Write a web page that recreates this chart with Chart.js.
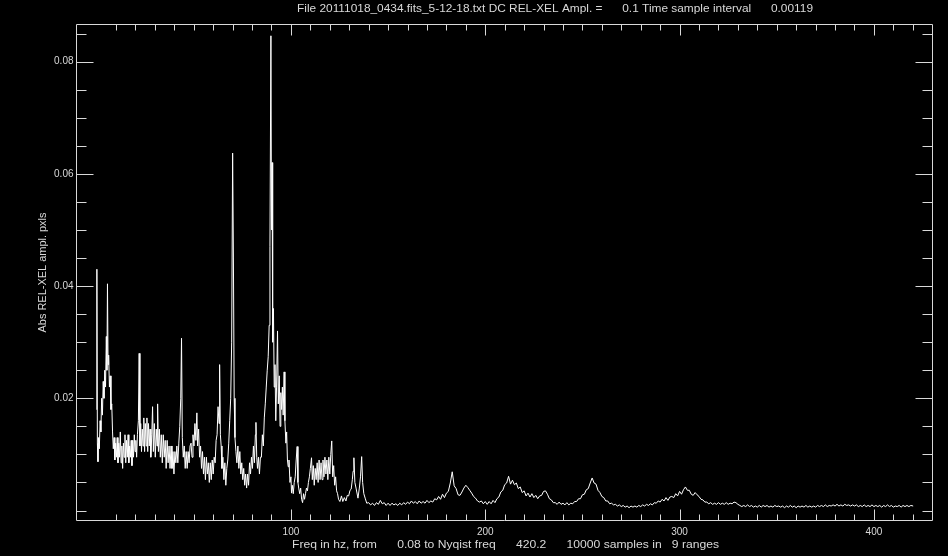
<!DOCTYPE html>
<html>
<head>
<meta charset="utf-8">
<script src="https://cdn.jsdelivr.net/npm/chart.js@4.4.0/dist/chart.umd.min.js"></script>
<style>
  html, body { margin: 0; padding: 0; background: #000; }
  canvas { display: block; background: #000; }
</style>
</head>
<body>
<canvas id="canvas" width="948" height="556"></canvas>
<script>
// spectrum: [freq Hz, amplitude]
var SPEC_0_40 = [
  [0,0.018],[0.15,0.043],[0.4,0.012],[0.7,0.0087],[1.0,0.013],[1.4,0.011],[1.8,0.016],[2.2,0.014],
  [2.6,0.020],[3.0,0.017],[3.4,0.023],[3.8,0.020],[4.2,0.025],[4.6,0.022],[5.0,0.031],[5.3,0.025],
  [5.6,0.0404],[5.9,0.026],[6.2,0.0277],[6.6,0.022],[7.0,0.024],[7.4,0.018],[7.8,0.019],[8.2,0.014],
  [8.6,0.011],[9.0,0.013],[9.4,0.009],[9.8,0.012],[10.2,0.0095],[10.6,0.013],[11.0,0.0085],[11.4,0.012],
  [11.8,0.0095],[12.2,0.014],[12.6,0.0085],[13.0,0.0115],[13.4,0.0075],[13.8,0.012],[14.2,0.0095],[14.6,0.0135],
  [15.0,0.0085],[15.4,0.0125],[15.8,0.0095],[16.2,0.0135],[16.6,0.0085],[17.0,0.0115],[17.4,0.0095],[17.8,0.0125],
  [18.2,0.008],[18.6,0.0125],[19.0,0.0095],[19.4,0.0135],[19.8,0.0105],[20.2,0.0125],[20.6,0.0095],[21.0,0.0135],
  [21.5,0.016],[21.9,0.028],[22.3,0.0115],[22.7,0.0155],[23.1,0.0105],[23.5,0.0145],[23.9,0.0115],[24.3,0.0165],
  [24.7,0.0105],[25.1,0.0155],[25.5,0.0115],[25.9,0.0165],[26.3,0.0105],[26.7,0.0155],[27.1,0.0115],[27.5,0.0145],
  [27.9,0.0095],[28.4,0.0135],[28.8,0.0185],[29.2,0.0105],[29.7,0.0155],[30.2,0.0095],[30.7,0.0145],[31.1,0.0115],
  [31.4,0.019],[31.8,0.0105],[32.3,0.0145],[32.8,0.0095],[33.3,0.0135],[33.8,0.0085],[34.3,0.0135],[34.8,0.0095],
  [35.3,0.0125],[35.8,0.0075],[36.3,0.0125],[36.8,0.0085],[37.3,0.0115],[37.8,0.0075],[38.3,0.0115],[38.8,0.0075],
  [39.3,0.0105],[39.8,0.0065]
];
var SPEC_40_100 = [
  [40.3,0.0105],[40.8,0.0085],[41.3,0.0115],[41.8,0.0085],[42.3,0.012],[42.8,0.015],[43.3,0.020],[43.7,0.0307],
  [44.1,0.013],[44.6,0.0095],[45.1,0.0115],[45.6,0.0075],[46.1,0.0105],[46.6,0.0075],[47.1,0.0105],[47.6,0.0085],
  [48.1,0.0115],[48.6,0.012],[49.1,0.0095],[49.6,0.0135],[50.1,0.0115],[50.6,0.0155],[51.1,0.0125],[51.6,0.0174],
  [52.0,0.0115],[52.5,0.0145],[53.0,0.0095],[53.5,0.0115],[54.0,0.0075],[54.5,0.0105],[55.0,0.0065],[55.5,0.0095],
  [56.0,0.0055],[56.5,0.0095],[57.0,0.0065],[57.5,0.0085],[58.0,0.005],[58.5,0.0085],[59.0,0.0055],[59.5,0.009],
  [60.0,0.0065],[60.5,0.0095],[61.0,0.0085],[61.5,0.0125],[62.0,0.0135],[62.5,0.0185],[63.0,0.0155],[63.3,0.026],
  [63.7,0.0135],[64.1,0.0115],[64.5,0.0075],[65.0,0.0095],[65.5,0.0055],[66.0,0.0085],[66.5,0.0045],[67.0,0.0075],
  [67.5,0.009],[68.0,0.012],[68.5,0.016],[69.0,0.020],[69.5,0.030],[70.0,0.0637],[70.4,0.045],[70.8,0.020],
  [71.2,0.013],[71.7,0.0105],[72.2,0.0085],[72.7,0.0115],[73.2,0.0075],[73.7,0.0105],[74.2,0.0065],[74.7,0.0085],
  [75.2,0.0055],[75.7,0.0075],[76.2,0.0045],[76.7,0.0065],[77.2,0.004],[77.7,0.0065],[78.2,0.0045],[78.7,0.0085],
  [79.2,0.0065],[79.7,0.0095],[80.2,0.0075],[80.7,0.0115],[81.2,0.0085],[81.7,0.0135],[82.0,0.0157],[82.4,0.0095],
  [82.8,0.0075],[83.3,0.0095],[83.8,0.0065],[84.3,0.0095],[84.8,0.0095],[85.3,0.0135],[85.8,0.0115],[86.3,0.0165],
  [86.8,0.019],[87.3,0.022],[87.8,0.025],[88.3,0.0274],[88.8,0.033],[89.2,0.047],[89.7,0.0846],[90.0,0.050],
  [90.3,0.062],[90.6,0.030],[91.0,0.036],[91.4,0.022],[91.8,0.026],[92.2,0.016],[92.6,0.022],[93.1,0.032],
  [93.5,0.019],[94.0,0.024],[94.4,0.015],[94.8,0.021],[95.2,0.018],[95.6,0.022],[96.0,0.017],[96.5,0.0247],
  [96.9,0.016],[97.4,0.012],[97.8,0.014],[98.2,0.009],[98.6,0.0078],[99.0,0.009],[99.5,0.005],[100.0,0.006]
];
var SPEC_100_140 = [
  [100.3,0.0031],[100.7,0.0045],[101.2,0.003],[101.7,0.005],[102.2,0.006],[102.7,0.009],[103.2,0.0114],[103.6,0.005],
  [104.0,0.004],[104.5,0.003],[105.0,0.004],[105.5,0.002],[106.0,0.0014],[106.5,0.003],[107.0,0.002],[107.5,0.003],
  [108.0,0.004],[108.5,0.0035],[109.0,0.005],[109.5,0.006],[110.0,0.0075],[110.6,0.0094],[111.0,0.0055],[111.5,0.008],
  [112.0,0.0045],[112.5,0.0075],[113.0,0.0055],[113.5,0.0085],[114.0,0.005],[114.5,0.009],[115.0,0.0055],[115.5,0.0085],
  [116.0,0.0055],[116.5,0.009],[117.0,0.006],[117.5,0.0095],[118.0,0.0065],[118.5,0.009],[119.0,0.0055],[119.5,0.0095],
  [120.0,0.0065],[120.5,0.010],[121.0,0.0124],[121.5,0.006],[122.0,0.008],[122.5,0.0045],[123.0,0.006],[123.5,0.0035],
  [124.0,0.003],[124.5,0.002],[125.2,0.0016],[126.0,0.0026],[126.7,0.0016],[127.5,0.0023],[128.3,0.0017],[129.0,0.0027],
  [129.7,0.0026],[130.4,0.0036],[131.0,0.0038],[131.6,0.0055],[132.0,0.007],[132.4,0.0094],[132.9,0.005],[133.5,0.004],
  [134.5,0.0022],[135.2,0.004],[135.8,0.006],[136.4,0.0096],[136.9,0.005],[137.5,0.003],[138.2,0.0022],[139.0,0.0013]
];
var SPEC_140_260 = [
  [140,0.0014],[141,0.0010],[142,0.0013],[143,0.0009],[144,0.0014],[145,0.0011],[146,0.0018],[147,0.0012],
  [148,0.0014],[149,0.0009],[150,0.0013],[151,0.0009],[152,0.0013],[153,0.0010],[154,0.0012],[155,0.0009],
  [156,0.0013],[157,0.0010],[158,0.0014],[159,0.0011],[160,0.0015],[161,0.0012],[162,0.0017],[163,0.0013],
  [164,0.0016],[165,0.0012],[166,0.0017],[167,0.0013],[168,0.0016],[169,0.0013],[170,0.0018],[171,0.0014],
  [172,0.0017],[173,0.0015],[174,0.0021],[175,0.0019],[176,0.0025],[177,0.0020],[178,0.0029],[179,0.0023],
  [180,0.0031],[181,0.0034],[182,0.0049],[183,0.0069],[184,0.0044],[185,0.0039],[186,0.0028],[187,0.0027],
  [188,0.0033],[189,0.0040],[190,0.0045],[191,0.0041],[192,0.0036],[193,0.0031],[194,0.0025],[195,0.0022],
  [196,0.0017],[197,0.0015],[198,0.0017],[199,0.0012],[200,0.0016],[201,0.0011],[202,0.0016],[203,0.0012],
  [204,0.0018],[205,0.0014],[206,0.0021],[207,0.0024],[208,0.0033],[209,0.0036],[210,0.0046],[211,0.0049],
  [212,0.0061],[213,0.0047],[214,0.0054],[215,0.0046],[216,0.0049],[217,0.0039],[218,0.0042],[219,0.0032],
  [220,0.0035],[221,0.0026],[222,0.0031],[223,0.0024],[224,0.0030],[225,0.0023],[226,0.0027],[227,0.0021],
  [228,0.0026],[229,0.0027],[230,0.0034],[231,0.0035],[232,0.0029],[233,0.0021],[234,0.0019],[235,0.0014],
  [236,0.0014],[237,0.0011],[238,0.0015],[239,0.0011],[240,0.0013],[241,0.0010],[242,0.0014],[243,0.0010],
  [244,0.0013],[245,0.0012],[246,0.0016],[247,0.0016],[248,0.0021],[249,0.0021],[250,0.0028],[251,0.0029],
  [252,0.0037],[253,0.0039],[254,0.0049],[255,0.0058],[256,0.0049],[257,0.0047],[258,0.0036],[259,0.0032]
];
var SPEC_260_420 = [
  [260,0.0025],[261,0.0023],[262,0.0017],[263,0.0017],[264,0.0012],[265,0.0013],[266,0.0010],[267,0.0011],
  [268,0.0008],[269,0.0010],[270,0.0007],[271,0.0009],[272,0.0006],[273,0.0008],[274,0.0005],[275,0.0008],
  [276,0.0006],[277,0.0008],[278,0.0006],[279,0.0009],[280,0.0007],[281,0.0010],[282,0.0008],[283,0.0011],
  [284,0.0009],[285,0.0012],[286,0.0010],[287,0.0014],[288,0.0013],[289,0.0017],[290,0.0015],[291,0.0020],
  [292,0.0017],[293,0.0023],[294,0.0018],[295,0.0024],[296,0.0025],[297,0.0023],[298,0.0030],[299,0.0026],
  [300,0.0034],[301,0.0029],[302,0.0037],[303,0.0042],[304,0.0036],[305,0.0036],[306,0.0029],[307,0.0027],
  [308,0.0032],[309,0.0028],[310,0.0025],[311,0.0020],[312,0.0019],[313,0.0015],[314,0.0015],[315,0.0012],
  [316,0.0014],[317,0.0011],[318,0.0013],[319,0.0011],[320,0.0014],[321,0.0011],[322,0.0013],[323,0.0011],
  [324,0.0014],[325,0.0011],[326,0.0013],[327,0.0012],[328,0.0015],[329,0.0014],[330,0.0011],[331,0.0009],
  [332,0.0007],[333,0.0009],[334,0.0007],[335,0.0010],[336,0.0007],[337,0.0009],[338,0.0006],[339,0.0008],
  [340,0.0006],[341,0.0009],[342,0.0006],[343,0.0009],[344,0.0007],[345,0.0009],[346,0.0006],[347,0.0008],
  [348,0.0006],[349,0.0009],[350,0.0007],[351,0.0008],[352,0.0006],[353,0.0008],[354,0.0005],[355,0.0008],
  [356,0.0006],[357,0.0009],[358,0.0006],[359,0.0008],[360,0.0005],[361,0.0008],[362,0.0006],[363,0.0008],
  [364,0.0006],[365,0.0009],[366,0.0006],[367,0.0008],[368,0.0006],[369,0.0008],[370,0.0006],[371,0.0009],
  [372,0.0007],[373,0.0009],[374,0.0007],[375,0.0010],[376,0.0007],[377,0.0009],[378,0.0008],[379,0.0010],
  [380,0.0008],[381,0.0011],[382,0.0008],[383,0.0010],[384,0.0008],[385,0.0011],[386,0.0009],[387,0.0010],
  [388,0.0008],[389,0.0010],[390,0.0008],[391,0.0010],[392,0.0007],[393,0.0009],[394,0.0007],[395,0.0010],
  [396,0.0007],[397,0.0009],[398,0.0007],[399,0.0010],[400,0.0007],[401,0.0009],[402,0.0007],[403,0.0009],
  [404,0.0006],[405,0.0009],[406,0.0007],[407,0.0010],[408,0.0007],[409,0.0009],[410,0.0006],[411,0.0008],
  [412,0.0007],[413,0.0009],[414,0.0006],[415,0.0009],[416,0.0007],[417,0.0009],[418,0.0007],[419,0.0009],
  [420.2,0.0008]
];

var X_MAJOR = [100, 200, 300, 400];
var X_LABELS = ['100', '200', '300', '400'];
var Y_MAJOR = [0.02, 0.04, 0.06, 0.08];
var Y_LABELS = ['0.02', '0.04', '0.06', '0.08'];
var X_RANGE = [-10.6, 430.4];
var Y_RANGE = [-0.00187, 0.0867];

var TITLE = 'File 20111018_0434.fits_5-12-18.txt DC REL-XEL Ampl. =      0.1 Time sample interval      0.00119';
var X_TITLE = 'Freq in hz, from      0.08 to Nyqist freq      420.2      10000 samples in   9 ranges';
var Y_TITLE = 'Abs REL-XEL ampl. pxls';

var points = [];
[SPEC_0_40, SPEC_40_100, SPEC_100_140, SPEC_140_260, SPEC_260_420].forEach(function (seg) {
  seg.forEach(function (p) { points.push({ x: p[0], y: p[1] }); });
});

var FG = '#d9d9d9';

// draw text stretched to a given width (the IDL vector font is wide)
function stretchText(ctx, txt, x, y, width) {
  var w = ctx.measureText(txt).width;
  ctx.save();
  ctx.translate(x, y);
  ctx.scale(width / w, 1);
  ctx.fillText(txt, 0, 0);
  ctx.restore();
}

var idlFrame = {
  id: 'idlFrame',
  afterDraw: function (chart) {
    var ctx = chart.ctx, a = chart.chartArea;
    var xs = chart.scales.x, ys = chart.scales.y;
    ctx.save();
    ctx.strokeStyle = FG;
    ctx.lineWidth = 1;
    var L = Math.round(a.left) + 0.5, R = Math.round(a.right) - 0.5;
    var T = Math.round(a.top) + 0.5, B = Math.round(a.bottom) - 0.5;
    ctx.beginPath();
    ctx.rect(L, T, R - L, B - T);
    // x ticks, every 10 Hz, longer at labelled ones
    for (var f = 10; f <= 420; f += 10) {
      var px = Math.round(xs.getPixelForValue(f)) + 0.5;
      var len = X_MAJOR.indexOf(f) >= 0 ? 11 : 6;
      ctx.moveTo(px, B); ctx.lineTo(px, B - len);
      ctx.moveTo(px, T); ctx.lineTo(px, T + len);
    }
    // y ticks, every 0.005
    for (var k = 0; k <= 17; k++) {
      var v = k * 0.005;
      var py = Math.round(ys.getPixelForValue(v)) + 0.5;
      var major = (k % 4 === 0 && k > 0);
      var ylen = major ? 17 : 10;
      ctx.moveTo(L, py); ctx.lineTo(L + ylen, py);
      ctx.moveTo(R, py); ctx.lineTo(R - ylen, py);
    }
    ctx.stroke();

    ctx.fillStyle = FG;
    ctx.font = '10px "Liberation Sans"';
    ctx.textAlign = 'center';
    ctx.textBaseline = 'middle';
    X_MAJOR.forEach(function (f, i) {
      ctx.fillText(X_LABELS[i], xs.getPixelForValue(f), B + 12);
    });
    ctx.textAlign = 'right';
    Y_MAJOR.forEach(function (v, i) {
      ctx.fillText(Y_LABELS[i], L - 3, ys.getPixelForValue(v));
    });

    ctx.textAlign = 'left';
    ctx.font = '11px "Liberation Sans"';
    stretchText(ctx, TITLE, 297, 9, 516);
    ctx.font = '10px "Liberation Sans"';
    stretchText(ctx, X_TITLE, 292, B + 25, 427);

    ctx.save();
    ctx.translate(43, (T + B) / 2);
    ctx.rotate(-Math.PI / 2);
    stretchText(ctx, Y_TITLE, -60, 0, 120);
    ctx.restore();
    ctx.restore();
  }
};

window.onload = function () {
  var ctx = document.getElementById('canvas').getContext('2d');
  window.myChart = new Chart(ctx, {
    type: 'line',
    data: {
      datasets: [{
        data: points,
        borderColor: '#ffffff',
        borderWidth: 1,
        pointRadius: 0,
        tension: 0,
        fill: false
      }]
    },
    options: {
      responsive: false,
      animation: false,
      devicePixelRatio: 1,
      layout: { padding: { left: 76, right: 15, top: 24, bottom: 35 } },
      plugins: { legend: { display: false }, tooltip: { enabled: false } },
      scales: {
        x: { type: 'linear', min: X_RANGE[0], max: X_RANGE[1], display: false },
        y: { type: 'linear', min: Y_RANGE[0], max: Y_RANGE[1], display: false }
      }
    },
    plugins: [idlFrame]
  });
};
</script>
</body>
</html>
